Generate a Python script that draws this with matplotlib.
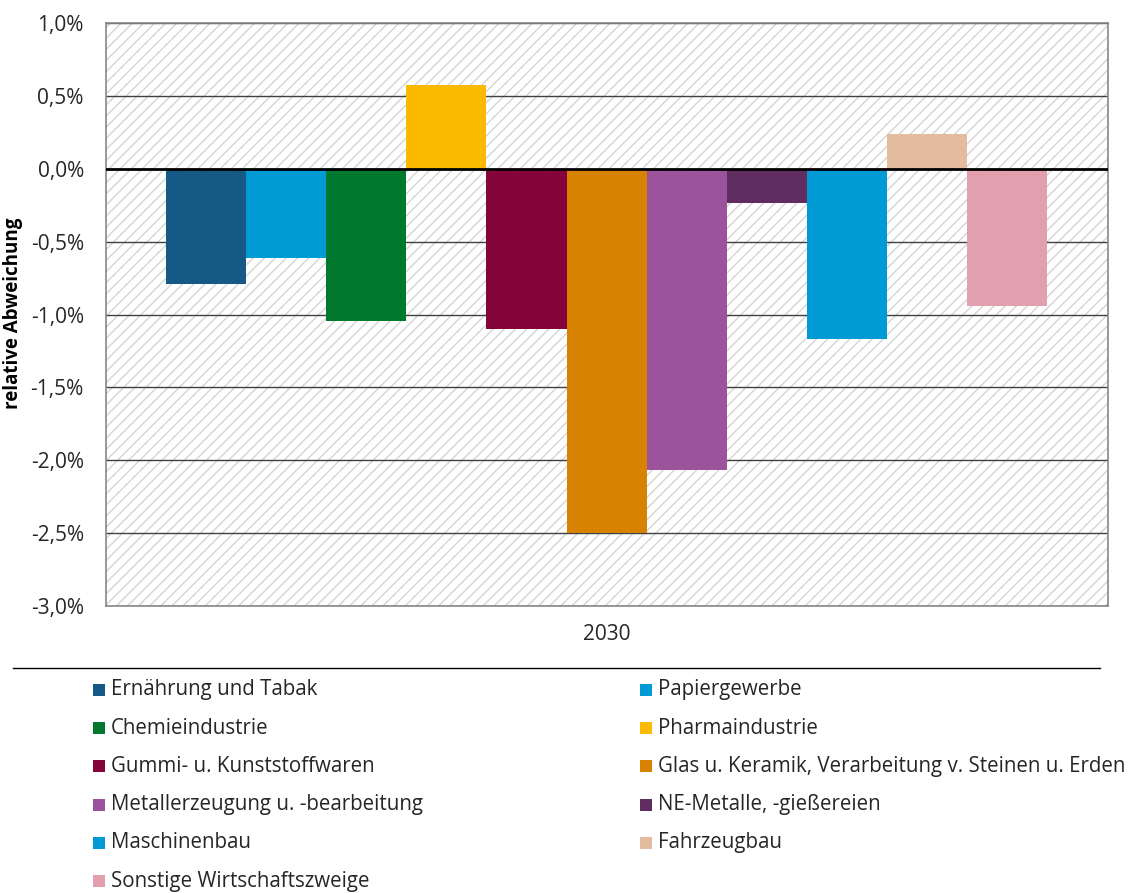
import matplotlib
matplotlib.use("Agg")
import matplotlib.pyplot as plt
from matplotlib.patches import Rectangle
from matplotlib.lines import Line2D

categories = [
    "Ernährung und Tabak", "Papiergewerbe", "Chemieindustrie", "Pharmaindustrie",
    "Gummi- u. Kunststoffwaren", "Glas u. Keramik, Verarbeitung v. Steinen u. Erden",
    "Metallerzeugung u. -bearbeitung", "NE-Metalle, -gießereien", "Maschinenbau",
    "Fahrzeugbau", "Sonstige Wirtschaftszweige",
]
values = [-0.79, -0.61, -1.045, 0.575, -1.10, -2.50, -2.07, -0.235, -1.17, 0.238, -0.94]
colors = ["#155A87", "#009BD5", "#00782D", "#FBBA00", "#85053A", "#D78200",
          "#9B549B", "#5F2D5F", "#009BD5", "#E3BCA0", "#E29FAD"]
yticks = [1.0, 0.5, 0.0, -0.5, -1.0, -1.5, -2.0, -2.5, -3.0]
ytick_labels = ["1,0%", "0,5%", "0,0%", "-0,5%", "-1,0%", "-1,5%", "-2,0%", "-2,5%", "-3,0%"]
year = "2030"

plt.rcParams['font.family'] = ['Open Sans', 'DejaVu Sans']
plt.rcParams['hatch.linewidth'] = 1.0
plt.rcParams['hatch.color'] = '#d4d4d4'

W, H = 1133, 893
fig = plt.figure(figsize=(W / 100, H / 100), dpi=100)
ax = fig.add_axes([106 / W, 1 - 606 / H, (1108 - 106) / W, (606 - 23) / H])

# hatched background
ax.add_patch(Rectangle((0, 0), 1, 1, transform=ax.transAxes, facecolor='white',
                       edgecolor='#d4d4d4', hatch='///', linewidth=0, zorder=0))

for y in yticks:
    if y != 0.0:
        ax.axhline(y, color='#404040', lw=1.0, zorder=1)

xs = list(range(len(values)))
ax.bar(xs, values, width=1.0, color=colors, edgecolor='none', zorder=2)
ax.axhline(0, color='black', lw=2.0, zorder=3)

ax.set_xlim(-1.25, len(values) - 0.5 + 0.76)
ax.set_ylim(-3.0, 1.0)
ax.set_yticks(yticks)
ax.set_yticklabels(ytick_labels, fontsize=15, color='#262626')
ax.set_xticks([(len(values) - 1) / 2])
ax.set_xticklabels([year], fontsize=15, color='#262626')
ax.tick_params(axis='both', length=0)
ax.tick_params(axis='y', pad=16)
ax.tick_params(axis='x', pad=13)
for s in ax.spines.values():
    s.set_color('#888888')
    s.set_linewidth(1.2)
ax.set_ylabel("relative Abweichung", fontsize=13.5, fontweight='bold', color='black')
ax.yaxis.set_label_coords(-(106 - 23) / (1108 - 106), (606 - 313) / (606 - 23))

# separator line
fig.add_artist(Line2D([13 / W, 1100 / W], [1 - 668 / H, 1 - 668 / H], color='black', lw=1.0))

# legend (row-major, two columns)
col_x = [93, 640]
for i, (name, c) in enumerate(zip(categories, colors)):
    col, row = i % 2, i // 2
    yc = 690 + row * 38.2
    x0 = col_x[col]
    fig.add_artist(Rectangle((x0 / W, 1 - (yc + 6) / H), 12 / W, 12 / H,
                             facecolor=c, edgecolor='none', transform=fig.transFigure))
    fig.text((x0 + 18) / W, 1 - yc / H, name, fontsize=14.8, color='#262626',
             va='center', ha='left')

fig.savefig("out.png", dpi=100)
